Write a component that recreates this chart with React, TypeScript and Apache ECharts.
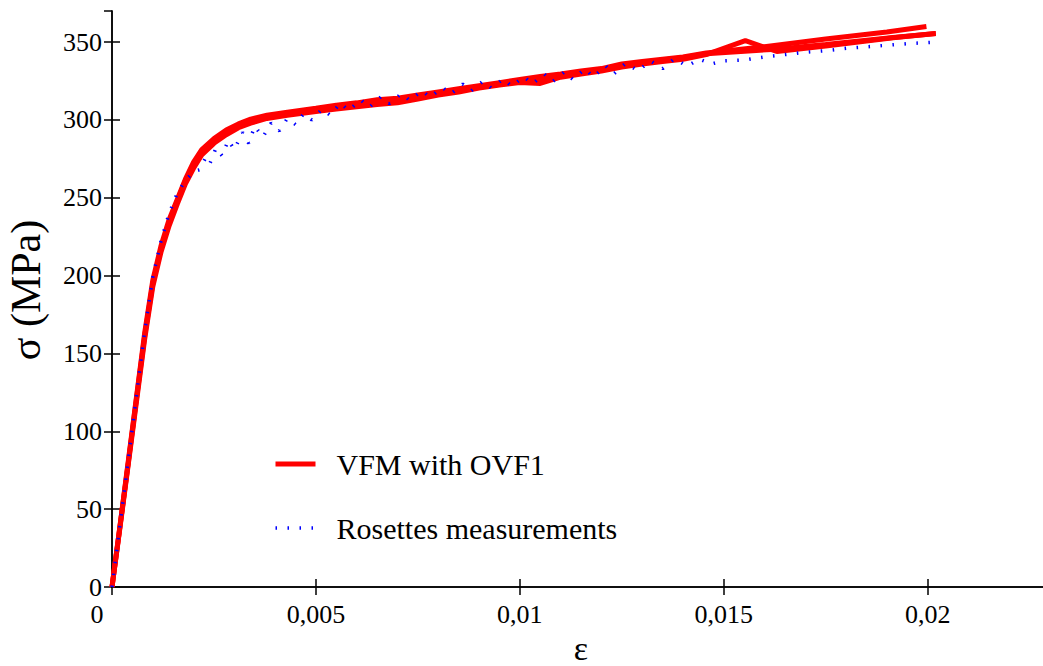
import React, { useEffect, useRef } from "react";
import * as echarts from "echarts";

// ---- axis ticks ----
const xTickValues = [0, 0.005, 0.01, 0.015, 0.02];
const xTickLabels = ["0", "0,005", "0,01", "0,015", "0,02"];
const yTickValues = [0, 50, 100, 150, 200, 250, 300, 350];

// ---- VFM with OVF1 (three identified curves) ----
const vfmStrain = [
  0, 0.0002, 0.0004, 0.0006, 0.0008, 0.001, 0.0012, 0.0014, 0.0016, 0.0018,
  0.002, 0.0022, 0.0025, 0.0028, 0.0031, 0.0034, 0.0038, 0.0043, 0.005, 0.0055,
  0.006, 0.0065, 0.007, 0.0075, 0.008, 0.0085, 0.009, 0.0095, 0.01, 0.0105,
  0.011, 0.0115, 0.012, 0.0125, 0.013, 0.0135, 0.014, 0.01457,
];
const vfmStressA = [
  0, 40, 81, 122, 163, 197, 219, 236, 249, 262,
  273, 281, 288, 293.5, 297.5, 300.5, 303, 305, 307.5, 309.5,
  311, 313, 314, 316, 318, 320, 322, 324, 326, 328,
  329.5, 331.5, 333, 336, 337.5, 339, 340.5, 343,
];
const vfmStressB = [
  0, 39, 79, 119, 159, 193, 215, 232, 246, 259,
  269, 277.5, 285, 290.5, 295, 298, 301, 303, 305.5, 307,
  308.5, 310, 311, 313.5, 316, 318, 320.5, 322.5, 324, 323.5,
  327.5, 329.5, 331.5, 334, 336, 337.5, 339, 342,
];
const vfmStressC = [
  0, 40, 80, 121, 161, 195, 217, 234, 248, 261,
  271, 279, 287, 292, 296.5, 299.5, 302, 304, 306.5, 308.5,
  310.5, 311.5, 312, 315, 317, 319, 321, 323, 325, 326,
  328.5, 330.5, 332.5, 335, 337, 338.5, 340, 342.5,
];
const vfmTailStrainA = [0.016, 0.0175, 0.019, 0.01997];
const vfmTailStressA = [347, 352, 356.5, 360];
const vfmTailStrainB = [0.01553, 0.0163, 0.0175, 0.01915, 0.0202];
const vfmTailStressB = [351, 344, 347.5, 352.8, 355.6];
const vfmTailStrainC = [0.0163, 0.0175, 0.01915, 0.0202];
const vfmTailStressC = [345.5, 348.5, 353, 355.6];

// ---- Rosettes measurements ----
const rosetteStrain = [
  0, 0.0002, 0.0004, 0.0006, 0.0008, 0.001, 0.0012, 0.0014, 0.0016, 0.0018,
  0.002, 0.00215, 0.0023, 0.0024, 0.00255, 0.0027, 0.00285, 0.003, 0.0032, 0.00335,
  0.0035, 0.0037, 0.0039, 0.0041, 0.0043, 0.0045, 0.0047, 0.0049, 0.00515, 0.00535,
  0.0056, 0.0058, 0.0061, 0.0063, 0.0066, 0.0068, 0.0071, 0.0073, 0.0076, 0.0078,
  0.0081, 0.0083, 0.0086, 0.0088, 0.0091, 0.0093, 0.0096, 0.0098, 0.0101, 0.0103,
  0.0106, 0.0108, 0.0111, 0.0113, 0.0116, 0.0118, 0.0121, 0.0123, 0.0126, 0.0129,
  0.0132, 0.0135, 0.0138, 0.0141, 0.0144, 0.0147, 0.015, 0.0155, 0.016, 0.0165,
  0.017, 0.0175, 0.018, 0.0185, 0.019, 0.0195, 0.0202,
];
const rosetteStress = [
  0, 41, 82, 123, 164, 199, 222, 240, 253, 261,
  267, 268, 276, 272, 282, 277, 287, 281, 292, 285,
  296, 289, 298, 293, 301, 297, 304, 300, 307, 303,
  311, 306, 313, 308, 315, 310.5, 317, 312.5, 319, 314.5,
  321, 316.5, 323, 318.5, 325, 320.5, 326.5, 321.5, 328, 323,
  329.5, 324.5, 331, 326, 333, 327.5, 335, 329.5, 336.5, 331.5,
  338, 333, 339.5, 334.5, 339, 336, 338, 338.5, 340.5, 342,
  343.5, 344.5, 346, 347, 348, 349, 350,
];

const FONT = "Liberation Serif";
const VFM_NAME = "VFM with OVF1";
const ROS_NAME = "Rosettes measurements";

function pairs(xs: number[], ys: number[]) {
  return xs.map((x, i) => [x, ys[i]]);
}

export default function App() {
  const ref = useRef<HTMLDivElement>(null);

  useEffect(() => {
    if (!ref.current) return;
    const chart = echarts.init(ref.current, null, { renderer: "svg" });

    const axisLine = { show: true, lineStyle: { color: "#000", width: 1.5 } };
    const axisTick = { show: true, inside: true, length: 8, lineStyle: { color: "#000", width: 1.5 } };

    const redSeries = (data: number[][]) => ({
      type: "line",
      name: VFM_NAME,
      data,
      showSymbol: false,
      symbol: "none",
      lineStyle: { color: "#ff0000", width: 5 },
      itemStyle: { color: "#ff0000" },
      z: 2,
    });

    const option: any = {
      animation: false,
      backgroundColor: "#fff",
      textStyle: { fontFamily: FONT },
      grid: {
        left: 112,
        top: 11,
        width: 938,
        bottom: 79,
        containLabel: false,
        outerBoundsMode: "none",
      },
      legend: {
        data: [VFM_NAME, ROS_NAME],
        orient: "vertical",
        left: 268,
        top: 444,
        itemWidth: 40,
        itemHeight: 14,
        itemGap: 34,
        selectedMode: false,
        itemStyle: { opacity: 0 },
        lineStyle: { width: "inherit" },
        textStyle: { fontFamily: FONT, fontSize: 30, color: "#000", padding: [0, 0, 0, 16] },
      },
      xAxis: [
        {
          type: "value",
          min: 0,
          max: 0.023,
          interval: 0.005,
          position: "bottom",
          name: "ε",
          nameLocation: "middle",
          nameGap: 36,
          nameTextStyle: { fontFamily: FONT, fontSize: 34, lineHeight: 34, color: "#000" },
          axisLine,
          axisTick,
          splitLine: { show: false },
          axisLabel: {
            showMaxLabel: false,
            margin: 17,
            fontFamily: FONT,
            fontSize: 26,
            lineHeight: 20,
            color: "#000",
            formatter: (v: number) => {
              const i = xTickValues.findIndex((t) => Math.abs(t - v) < 1e-9);
              if (i < 0) return "";
              return i === 0 ? "{z|" + xTickLabels[i] + "}" : xTickLabels[i];
            },
            rich: {
              z: { fontFamily: FONT, fontSize: 26, lineHeight: 20, color: "#000", padding: [0, 30, 0, 0] },
            },
          },
        },
        {
          type: "value",
          min: 0,
          max: 0.023,
          interval: 0.005,
          position: "top",
          axisLine,
          axisTick,
          axisLabel: { show: false },
          splitLine: { show: false },
        },
      ],
      yAxis: [
        {
          type: "value",
          min: 0,
          max: 370,
          interval: 50,
          position: "left",
          name: "σ (MPa)",
          nameLocation: "middle",
          nameRotate: 90,
          nameGap: 66,
          nameTextStyle: {
            fontFamily: FONT,
            fontSize: 42,
            lineHeight: 40,
            color: "#000",
            padding: [0, 0, 0, 18],
          },
          axisLine,
          axisTick,
          splitLine: { show: false },
          axisLabel: {
            showMaxLabel: false,
            margin: 10,
            fontFamily: FONT,
            fontSize: 26,
            lineHeight: 20,
            color: "#000",
            formatter: (v: number) => (yTickValues.includes(v) ? String(v) : ""),
          },
        },
        {
          type: "value",
          min: 0,
          max: 370,
          interval: 50,
          position: "right",
          axisLine,
          axisTick,
          axisLabel: { show: false },
          splitLine: { show: false },
        },
      ],
      series: [
        redSeries(pairs(vfmStrain.concat(vfmTailStrainA), vfmStressA.concat(vfmTailStressA))),
        redSeries(pairs(vfmStrain.concat(vfmTailStrainB), vfmStressB.concat(vfmTailStressB))),
        redSeries(pairs(vfmStrain.concat(vfmTailStrainC), vfmStressC.concat(vfmTailStressC))),
        {
          type: "line",
          name: ROS_NAME,
          data: pairs(rosetteStrain, rosetteStress),
          showSymbol: false,
          symbol: "none",
          lineStyle: { color: "#0000ff", width: 3.5, type: [1.5, 10.5] },
          itemStyle: { color: "#0000ff" },
          z: 3,
        },
      ],
    };

    chart.setOption(option);
    return () => chart.dispose();
  }, []);

  return (
    <div
      style={{
        position: "absolute",
        left: 0,
        top: 0,
        width: 1043,
        height: 666,
        overflow: "hidden",
        background: "#fff",
      }}
    >
      <div ref={ref} style={{ width: 1043, height: 666 }} />
    </div>
  );
}
